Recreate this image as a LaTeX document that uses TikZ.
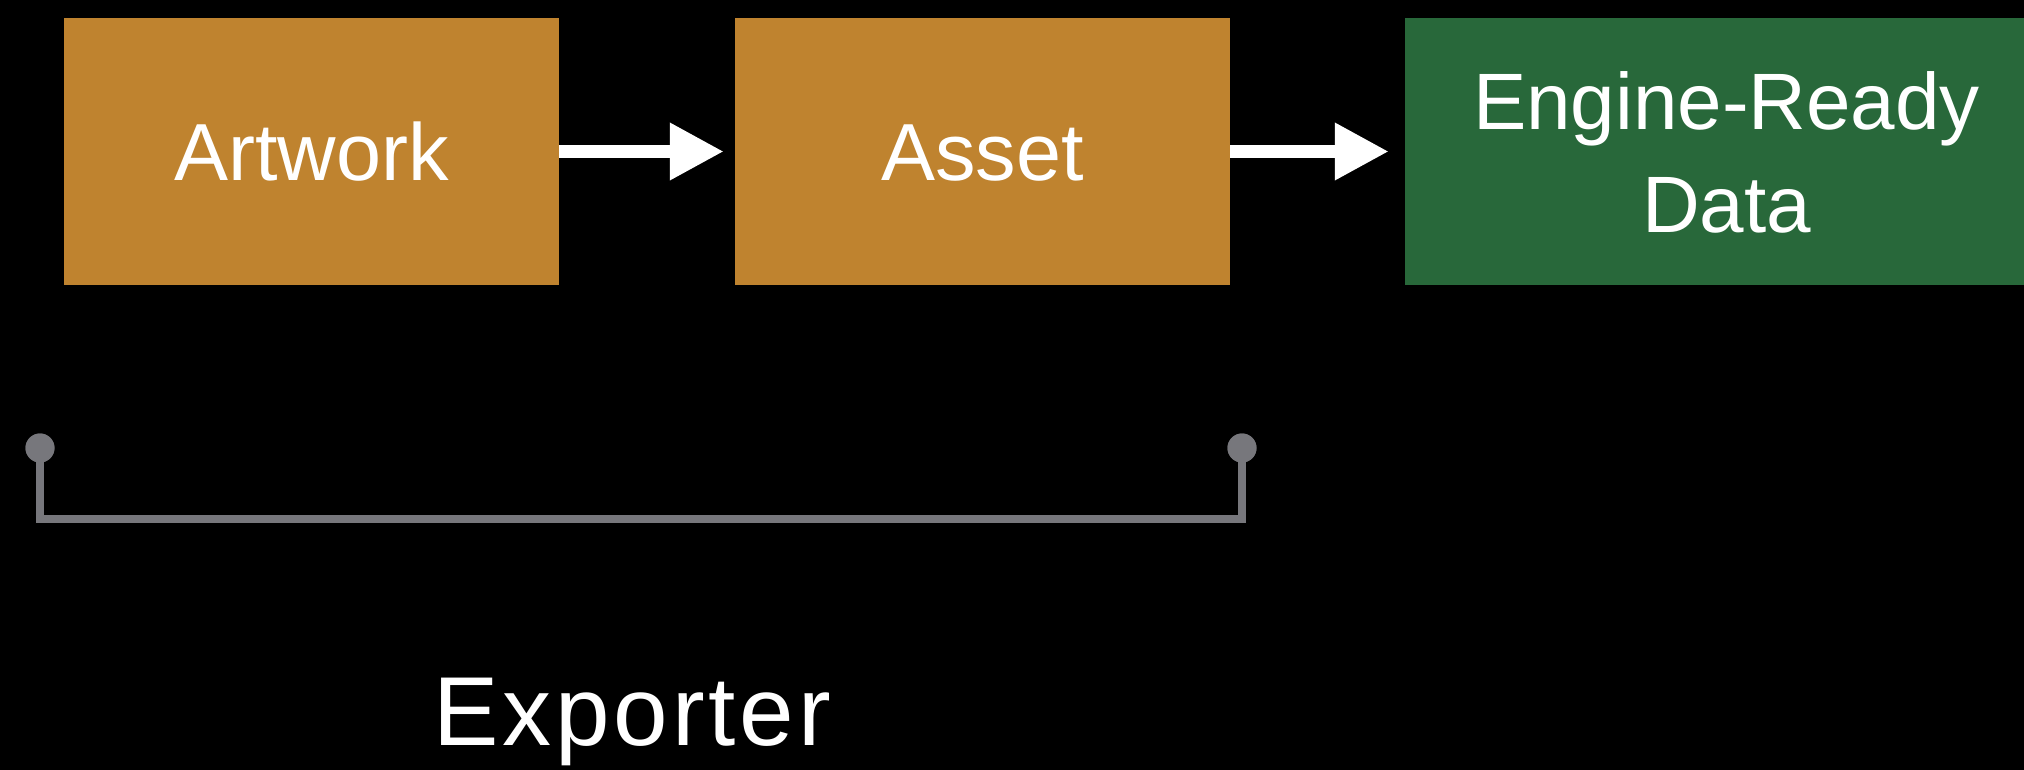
\documentclass[tikz,border=0pt]{standalone}
\usepackage{fontspec}
\setmainfont{Liberation Sans}
\usetikzlibrary{arrows.meta}

\definecolor{boxorange}{HTML}{BF832F}
\definecolor{boxgreen}{HTML}{28683A}
\definecolor{brkgray}{HTML}{77777C}

\tikzset{
  stage/.style={rectangle, inner sep=0pt, minimum height=267pt, text=white,
    font=\fontsize{81}{103}\selectfont, text height=58pt, text depth=0pt},
  flow/.style={draw=white, line width=13pt,
    -{Triangle[length=54pt, width=54pt]}, white},
  brk/.style={draw=brkgray, line width=8pt, line join=miter},
  pin/.style={circle, fill=brkgray, inner sep=0pt, minimum size=29pt},
  caption/.style={text=white, font=\fontsize{98}{118}\selectfont\addfontfeature{LetterSpace=4}, inner sep=0pt}
}

\begin{document}
\begin{tikzpicture}[x=1pt, y=-1pt]
  \useasboundingbox (0,0) rectangle (2024,770);
  \fill[black] (0,0) rectangle (2024,770);

  % pipeline stages
  \node[stage, fill=boxorange, minimum width=495pt] (art) at (311.5,151.5) {Artwork};
  \node[stage, fill=boxorange, minimum width=495pt] (asset) at (982.5,151.5) {Asset};
  \node[stage, fill=boxgreen, minimum width=643pt, align=center,
        font=\fontsize{80}{103}\selectfont, text height=163pt, text depth=0pt]
        (eng) at (1726.5,151.5) {Engine-Ready\\Data};

  % arrows between stages
  \draw[flow, shorten >=11pt] (art.east) -- (asset.west);
  \draw[flow, shorten >=16pt] (asset.east) -- (eng.west);

  % bracket spanning the exporter stages
  \coordinate (brkbase) at (0,519);
  \node[pin] (p1) at (40,448) {};
  \node[pin] (p2) at (1242,448) {};
  \draw[brk] (p1.center) -- (p1.center |- brkbase) -- (p2.center |- brkbase) -- (p2.center);
  \node[pin] at (p1.center) {};
  \node[pin] at (p2.center) {};

  \node[caption, anchor=base] (exp) at (632,745) {Exporter};
\end{tikzpicture}
\end{document}
